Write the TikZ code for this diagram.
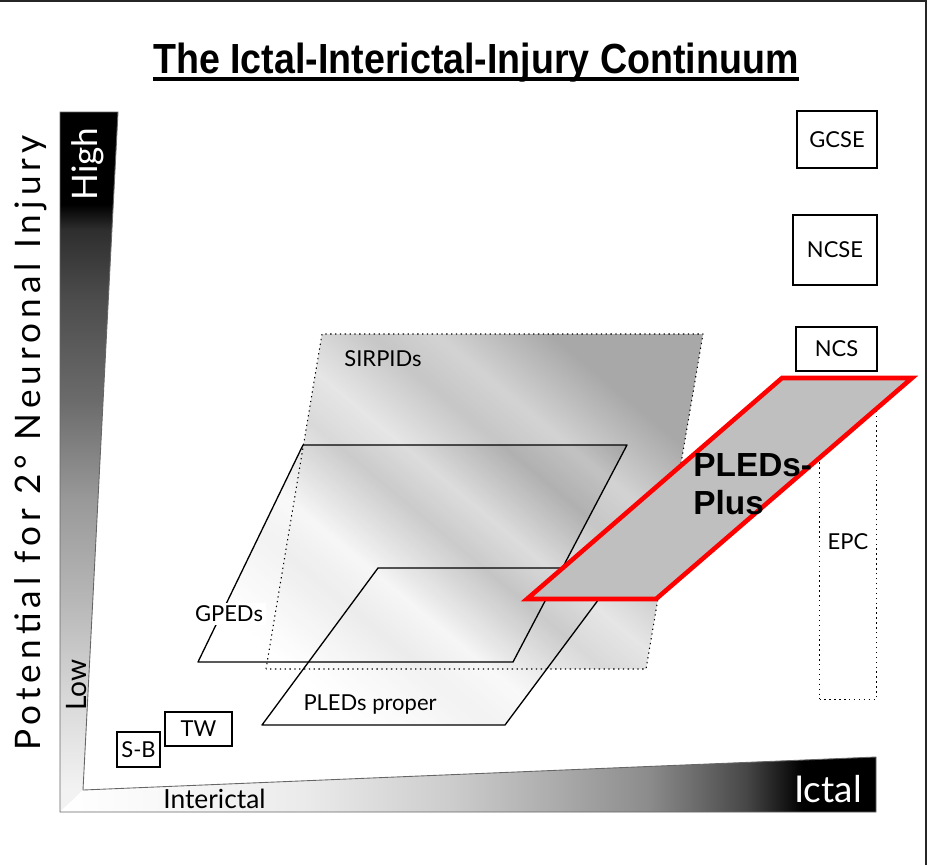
\documentclass[tikz,border=0pt]{standalone}
\usepackage{fontspec}
\setmainfont{Lato}
\newfontfamily\titlefont{Liberation Sans}
\newfontfamily\spacedfont[LetterSpace=14.5]{Lato}
\usetikzlibrary{calc}

% grey ramps for the two axes and the streaks behind the planes
\pgfdeclareverticalshading{injuryaxis}{100bp}{color(0bp)=(black!5); color(26.6bp)=(black!5);
  color(33bp)=(black!15); color(40bp)=(black!28); color(47.3bp)=(black!40);
  color(54.4bp)=(black!58); color(61.6bp)=(black!70); color(66.6bp)=(black!82);
  color(68.4bp)=(black); color(100bp)=(black)}
\pgfdeclarehorizontalshading{ictalaxis}{100bp}{color(0bp)=(white); color(25bp)=(white);
  color(32bp)=(black!3); color(40bp)=(black!8); color(49bp)=(black!20);
  color(55bp)=(black!32); color(61bp)=(black!45); color(64bp)=(black!58);
  color(67bp)=(black!72); color(69.5bp)=(black!92); color(70.5bp)=(black); color(100bp)=(black)}
\pgfdeclarehorizontalshading{streaks}{100bp}{color(0bp)=(white); color(30bp)=(white);
  color(38bp)=(black!8); color(42bp)=(black!4); color(49bp)=(black!24);
  color(53bp)=(black!16); color(59bp)=(black!36); color(63bp)=(black!28);
  color(70bp)=(black!55); color(100bp)=(black!55)}

\tikzset{
  typebox/.style={draw, line width=0.8pt, inner sep=0pt, font=\fontsize{12.5}{15}\selectfont},
  lbl/.style={inner sep=0pt, font=\fontsize{12.5}{15}\selectfont},
  plane/.style={draw, line width=0.75pt, line join=round},
  streakfill/.style={shading=streaks, shading angle=50, fill opacity=0.62},
}

\begin{document}
\begin{tikzpicture}[x=0.02cm, y=-0.02cm]
\useasboundingbox (0,0) rectangle (932,865);

% frame
\draw[line width=1pt, black!85] (0,1) -- (926,1) -- (926,865);

% title
\node[inner sep=0pt, anchor=base, yscale=1.12, font=\titlefont\bfseries\fontsize{21.4}{24}\selectfont]
  (title) at (476,73) {The Ictal-Interictal-Injury Continuum};
\draw[line width=1.8pt] ($(title.base west)+(0,6)$) -- ($(title.base east)+(0,6)$);

% axes
\coordinate (axTL) at (60,112);
\coordinate (axTR) at (118,112);
\coordinate (axIn) at (83,790);
\coordinate (axRT) at (876,757);
\coordinate (axRB) at (876,812);
\coordinate (axBL) at (60,812);
\shade[shading=injuryaxis] (axTL) -- (axTR) -- (axIn) -- (axBL) -- cycle;
\shade[shading=ictalaxis] (axBL) -- (axIn) -- (axRT) -- (axRB) -- cycle;
\draw[black!60, line width=0.5pt] (axTL) -- (axTR) -- (axIn) -- (axRT) -- (axRB) -- (axBL) -- cycle;

% planes
\coordinate (s1) at (266,669); \coordinate (s2) at (322,334);
\coordinate (s3) at (703,334); \coordinate (s4) at (646,669);
\coordinate (g1) at (198,662); \coordinate (g2) at (303,445);
\coordinate (g3) at (627,445); \coordinate (g4) at (513,662);
\coordinate (p1) at (262,725); \coordinate (p2) at (378,568);
\coordinate (p3) at (622,568); \coordinate (p4) at (505,725);
\coordinate (q1) at (527,599); \coordinate (q2) at (782,378);
\coordinate (q3) at (912,378); \coordinate (q4) at (656,599);

% one square of streaks, seen through each plane
\begin{scope}
  \clip (s1) -- (s2) -- (s3) -- (s4) -- cycle;
  \shade[streakfill] (190,265) rectangle (720,795);
\end{scope}
\begin{scope}
  \clip (g1) -- (g2) -- (g3) -- (g4) -- cycle;
  \shade[streakfill] (190,265) rectangle (720,795);
\end{scope}
\begin{scope}
  \clip (p1) -- (p2) -- (p3) -- (p4) -- cycle;
  \shade[streakfill] (190,265) rectangle (720,795);
\end{scope}

\draw[plane, dotted, line width=0.6pt] (s1) -- (s2) -- (s3) -- (s4) -- cycle;
\draw[plane] (g1) -- (g2) -- (g3) -- (g4) -- cycle;
\draw[plane] (p1) -- (p2) -- (p3) -- (p4) -- cycle;

% EPC sits under the PLEDs-Plus plane
\node[typebox, dotted, minimum width=1.14cm, minimum height=6.3cm] (epc) at (848,542) {EPC};
\filldraw[fill=black!25, draw=red, line width=2.6pt, line join=miter] (q1) -- (q2) -- (q3) -- (q4) -- cycle;

% seizure types
\node[typebox, minimum width=1.6cm, minimum height=1.14cm] (gcse) at (837,139.5) {GCSE};
\node[typebox, minimum width=1.68cm, minimum height=1.4cm] (ncse) at (835,250) {NCSE};
\node[typebox, minimum width=1.62cm, minimum height=0.88cm] (ncs) at (836.5,349) {NCS};
\node[typebox, minimum width=1.34cm, minimum height=0.68cm] (tw) at (198.5,729) {TW};
\node[typebox, minimum width=0.86cm, minimum height=0.7cm] (sb) at (138.5,749.5) {S-B};

% plane labels
\node[lbl] (sirpids) at (383,359) {SIRPIDs};
\node[lbl, fill=white, inner sep=1.5pt] (gpeds) at (229,614) {GPEDs};
\node[lbl] (pledsproper) at (370,705) {PLEDs proper};
\node[inner sep=0pt, anchor=north west, align=left,
  font=\titlefont\bfseries\fontsize{19}{21.5}\selectfont] (pledsplus) at (693,453) {PLEDs-\\Plus};

% axis labels
\node[inner sep=0pt, anchor=base, rotate=90, font=\spacedfont\fontsize{20}{24}\selectfont]
  (injury) at (40,443) {Potential for 2° Neuronal Injury};
\node[inner sep=0pt, anchor=base, rotate=90, text=white, font=\fontsize{20}{24}\selectfont]
  (high) at (97,164) {High};
\node[inner sep=0pt, anchor=base, rotate=90, font=\fontsize{16}{19}\selectfont]
  (low) at (86,685) {Low};
\node[inner sep=0pt, anchor=base west, font=\fontsize{15}{18}\selectfont]
  (interictal) at (163,808) {Interictal};
\node[inner sep=0pt, anchor=base, text=white, font=\fontsize{21}{24}\selectfont]
  (ictal) at (828,802) {Ictal};
\end{tikzpicture}
\end{document}
